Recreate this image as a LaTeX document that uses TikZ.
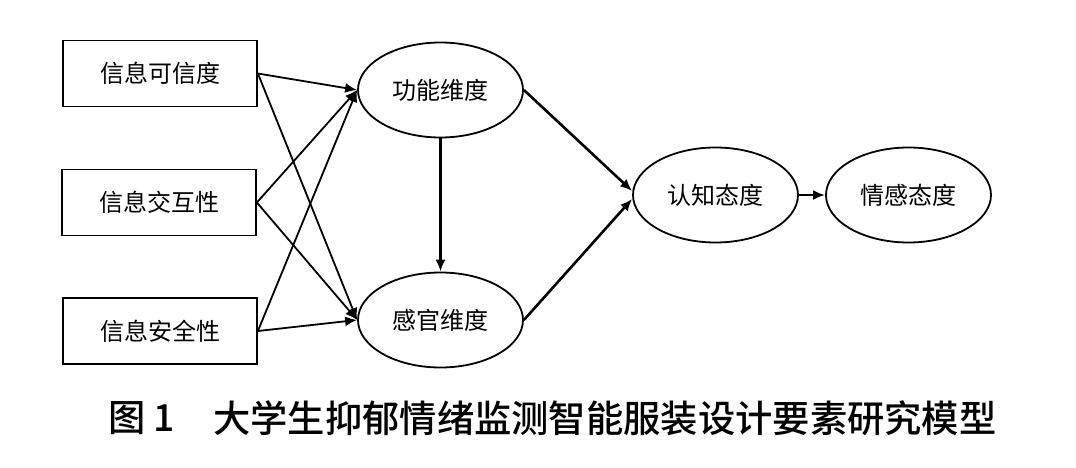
\documentclass[tikz,border=0pt]{standalone}
\usepackage{fontspec}
\newfontfamily\cjk{Noto Sans CJK SC}
\newfontfamily\cjkb{Noto Sans CJK SC Medium}
\usetikzlibrary{shapes.geometric,arrows.meta,calc}
\begin{document}
\begin{tikzpicture}[x=1pt,y=-1pt,
  boxnode/.style={draw,line width=1.8pt,minimum width=194pt,minimum height=66pt,inner sep=0pt,font=\cjk\fontsize{24}{28}\selectfont},
  ellnode/.style={ellipse,draw,line width=1.8pt,minimum width=165pt,minimum height=95pt,inner sep=0pt,font=\cjk\fontsize{24}{28}\selectfont},
  arr/.style={line width=1.8pt,-{Latex[length=12pt,width=10pt]}},
  arrb/.style={line width=2.6pt,-{Latex[length=12pt,width=10pt]}},
  capnode/.style={font=\cjkb\fontsize{37.3}{40}\selectfont,anchor=west,inner sep=0pt}]
\useasboundingbox (0,0) rectangle (1076,468);
\fill[white] (0,0) rectangle (1076,468);
\node[boxnode] (b1) at (160,73.5) {信息可信度};
\node[boxnode] (b2) at (159,202.5) {信息交互性};
\node[boxnode] (b3) at (160,331) {信息安全性};
\node[ellnode] (f) at (440.5,90) {功能维度};
\node[ellnode] (s) at (440.5,320) {感官维度};
\node[ellnode] (c) at (715.5,195) {认知态度};
\node[ellnode] (e) at (908.5,195) {情感态度};
\foreach \b in {b1,b2,b3}{
  \draw[arr] (\b.east) -- (f.west);
  \draw[arr] (\b.east) -- (s.west);
}
\draw[line width=2.4pt,-{Latex[length=12pt,width=10pt]}] (f.south) -- (s.north);
\draw[arrb] (f.east) -- ($(c.west)+(0,-4)$);
\draw[arrb] (s.east) -- ($(c.west)+(0,4)$);
\draw[arrb] (c.east) -- (e.west);
\node[capnode] (fig) at (108,418) {图 1};
\node[capnode] (cap) at (213,418) {大学生抑郁情绪监测智能服装设计要素研究模型};
\end{tikzpicture}
\end{document}
